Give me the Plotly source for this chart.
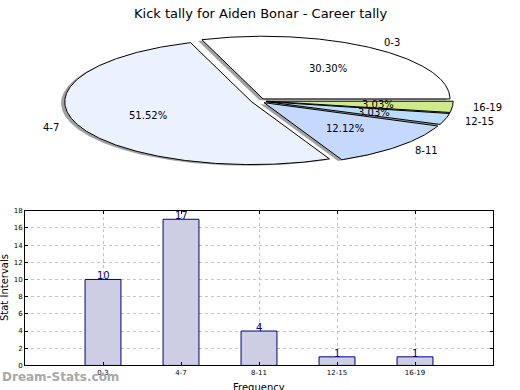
import numpy as np
import plotly.graph_objects as go

# ---- data ----
categories = ["0-3", "4-7", "8-11", "12-15", "16-19"]
counts = [10, 17, 4, 1, 1]
pie_colors = ["#FFFFFF", "#EBF1FD", "#C5D9FE", "#BCDCFE", "#CFEA8A"]
title_text = "Kick tally for Aiden Bonar - Career tally"
y_ticks = list(range(0, 19, 2))

# ---- styling params ----
W, H = 520, 390
explode = 0.04
shadow_dx, shadow_dy = -0.02, -0.02
font_family = "DejaVu Sans"

fig = go.Figure()

# Pie (elliptical) drawn on stretched cartesian axes x2/y2
total = sum(counts)
fracs = [c / total for c in counts]
start = 0.0
wedges = []
for cat, f, col in zip(categories, fracs, pie_colors):
    t1 = start * 360
    t2 = (start + f) * 360
    mid = np.deg2rad((t1 + t2) / 2)
    cx, cy = explode * np.cos(mid), explode * np.sin(mid)
    th = np.deg2rad(np.linspace(t1, t2, max(8, int((t2 - t1) * 2))))
    xs = np.concatenate([[cx], cx + np.cos(th), [cx]])
    ys = np.concatenate([[cy], cy + np.sin(th), [cy]])
    wedges.append((cat, f, col, xs, ys, mid, cx, cy))
    start += f

# shadows
for cat, f, col, xs, ys, mid, cx, cy in wedges:
    fig.add_trace(go.Scatter(x=xs + shadow_dx, y=ys + shadow_dy, mode="lines",
                             fill="toself", fillcolor="rgba(110,110,110,0.65)",
                             line=dict(width=0), hoverinfo="skip", showlegend=False,
                             xaxis="x2", yaxis="y2"))
for cat, f, col, xs, ys, mid, cx, cy in wedges:
    fig.add_trace(go.Scatter(x=xs, y=ys, mode="lines", fill="toself", fillcolor=col,
                             line=dict(color="black", width=1), name=cat,
                             showlegend=False, xaxis="x2", yaxis="y2"))
    # outer label
    lx, ly = cx + 1.1 * np.cos(mid), cy + 1.1 * np.sin(mid)
    fig.add_annotation(x=lx, y=ly, xref="x2", yref="y2", text=cat, showarrow=False,
                       xanchor="left" if lx > 0 else "right", yanchor="middle",
                       font=dict(size=10, color="black", family=font_family))
    px, py = cx + 0.6 * np.cos(mid), cy + 0.6 * np.sin(mid)
    fig.add_annotation(x=px, y=py, xref="x2", yref="y2", text=f"{f*100:.2f}%",
                       showarrow=False, xanchor="center", yanchor="middle",
                       font=dict(size=10, color="black", family=font_family))

# pie axis geometry (pixels)
rx_px, ry_px = 187.0, 64.0
pcx, pcy = 258.7, 99.0
top_px, bot_px = 20.0, 185.0
fig.update_layout(
    xaxis2=dict(domain=[0, 1], range=[-pcx / rx_px, (W - pcx) / rx_px], visible=False,
                anchor="y2", fixedrange=True),
    yaxis2=dict(domain=[(H - bot_px) / H, (H - top_px) / H],
                range=[-(bot_px - pcy) / ry_px, (pcy - top_px) / ry_px], visible=False,
                anchor="x2", fixedrange=True),
)

# Bar chart
fig.add_trace(go.Bar(x=categories, y=counts, width=0.46,
                     marker=dict(color="#CDCDE4", line=dict(color="#000080", width=1)),
                     showlegend=False, xaxis="x", yaxis="y"))
for cat, c in zip(categories, counts):
    fig.add_annotation(x=cat, y=c, xref="x", yref="y", text=str(c), showarrow=False,
                       xanchor="center", yanchor="bottom", yshift=-4,
                       font=dict(color="#000080", size=10, family=font_family))

axis_common = dict(showline=True, linecolor="black", linewidth=1, mirror="ticks",
                   ticks="inside", ticklen=3, tickcolor="black",
                   showgrid=True, gridcolor="#c4c4c4", griddash="dot", gridwidth=1,
                   zeroline=False, layer="above traces",
                   tickfont=dict(size=7, color="black", family=font_family))
fig.update_layout(
    xaxis=dict(domain=[25 / W, 493 / W], range=[-1, 5], type="category", anchor="y",
               **axis_common),
    yaxis=dict(domain=[(H - 369) / H, (H - 211) / H], range=[0, 18], tickvals=y_ticks,
               anchor="x", **axis_common),
)

# texts
fig.add_annotation(x=260 / W, y=(H - 10) / H, xref="paper", yref="paper", text=title_text,
                   showarrow=False, xanchor="center", yanchor="middle",
                   font=dict(size=13, color="black", family=font_family))
fig.add_annotation(x=4 / W, y=(H - 290) / H, xref="paper", yref="paper", text="Stat Intervals",
                   showarrow=False, textangle=-90, xanchor="center", yanchor="middle",
                   font=dict(size=10, color="black", family=font_family))
fig.add_annotation(x=259 / W, y=(H - 384) / H, xref="paper", yref="paper", text="Frequency",
                   showarrow=False, xanchor="center", yanchor="top",
                   font=dict(size=10, color="black", family=font_family))
fig.add_annotation(x=0, y=(H - 381) / H, xref="paper", yref="paper", text="<b>Dream-Stats.com</b>",
                   showarrow=False, xanchor="left", yanchor="middle",
                   font=dict(size=12, color="#a8a8a8", family="DejaVu Sans"))

fig.update_layout(width=W, height=H, margin=dict(l=0, r=0, t=0, b=0),
                  paper_bgcolor="white", plot_bgcolor="white", showlegend=False)

fig.write_html("out.html", config={"displayModeBar": False},
               post_script="document.body.style.margin='0';document.body.style.overflow='hidden';")
